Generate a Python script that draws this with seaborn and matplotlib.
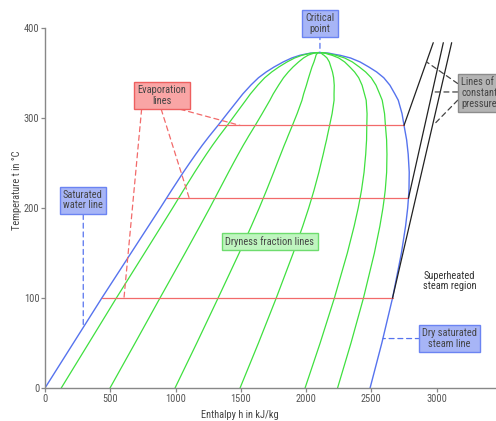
import numpy as np
import pandas as pd
import matplotlib
matplotlib.use("Agg")
import matplotlib.pyplot as plt
from matplotlib import font_manager
import seaborn as sns

# saturation dome (T in degC, h in kJ/kg)
t_liq = [0, 100, 200, 220, 240, 250, 260, 270, 280, 292, 305, 316, 327, 337, 345, 351.5, 357, 362.6, 367, 370, 371, 372.3, 372.8, 373]
h_liquid = [0, 435, 882, 970, 1060, 1107, 1155, 1205, 1258, 1325, 1395, 1455, 1515, 1578, 1635, 1695, 1755, 1825, 1890, 1953, 1985, 2030, 2065, 2100]

t_vap = [0, 50, 100, 150, 180, 200, 211, 220, 240, 260, 276, 292, 305, 320, 327, 336.7, 345, 351.5, 357, 362.6, 367, 370, 371, 372.3, 372.8, 373]
h_vapour = [2490, 2580, 2662, 2730, 2762, 2778, 2784, 2788, 2790, 2782, 2770, 2750, 2735, 2706, 2680, 2642, 2595, 2540, 2480, 2413, 2340, 2260, 2220, 2175, 2140, 2100]

dryness = [0.05, 0.2, 0.4, 0.6, 0.8, 0.9]

# evaporation lines
t_evap = [100, 211, 292]
h_evap_start = [435, 932, 1325]
h_evap_end = [2662, 2784, 2750]

# constant pressure lines (superheated region)
p_t_low = [292, 211, 100]
p_h_low = [2750, 2784, 2662]
p_t_high = [384, 384, 384]
p_h_high = [2974, 3051, 3115]

x_ticks = [0, 500, 1000, 1500, 2000, 2500, 3000]
y_ticks = [0, 100, 200, 300, 400]

sns.set_theme(style="ticks")

# pick a narrow face if one is there
fonts = font_manager.fontManager.ttflist
names = {f.name for f in fonts}
family = ['DejaVu Sans']
stretch = 'normal'
for cand in ['Liberation Sans Narrow', 'Roboto Condensed', 'Open Sans Condensed', 'Noto Sans Display']:
    if cand in names:
        family = [cand, 'DejaVu Sans']
        break
else:
    if any(f.name == 'DejaVu Sans' and f.stretch == 'condensed' for f in fonts):
        stretch = 'condensed'
plt.rcParams['font.family'] = family
plt.rcParams['font.stretch'] = stretch

BLUE = "#5673ee"
GREEN = "#3fe03f"
RED = "#f26a6a"
TXT = "#444444"
FS = 7.5

fig = plt.figure(figsize=(4.96, 4.21), dpi=100)
ax = fig.add_axes([45/496, 33/421, 450.4/496, 359.7/421])

# dome
dome = pd.DataFrame({
    "h": h_liquid + h_vapour[::-1],
    "t": t_liq + t_vap[::-1],
})
sns.lineplot(data=dome, x="h", y="t", sort=False, estimator=None,
             color=BLUE, lw=1.0, ax=ax)

# dryness fraction lines: h = h' + x (h'' - h') on a common T grid
t_common = sorted(set(t_liq) | set(t_vap))
hl = np.interp(t_common, t_liq, h_liquid)
hv = np.interp(t_common, t_vap, h_vapour)
for x in dryness:
    sns.lineplot(x=hl + x * (hv - hl), y=t_common, sort=False, estimator=None,
                 color=GREEN, lw=0.9, ax=ax)

# evaporation lines
for t, h0, h1 in zip(t_evap, h_evap_start, h_evap_end):
    sns.lineplot(x=[h0, h1], y=[t, t], color=RED, lw=0.9, ax=ax)

# constant pressure lines
for h0, t0, h1, t1 in zip(p_h_low, p_t_low, p_h_high, p_t_high):
    sns.lineplot(x=[h0, h1], y=[t0, t1], color="#222222", lw=0.9, ax=ax)

ax.set_xlim(0, 3450)
ax.set_ylim(0, 400)
ax.set_xticks(x_ticks)
ax.set_yticks(y_ticks)
ax.tick_params(colors="#888888", labelcolor="#555555", labelsize=FS, length=3, width=0.9, pad=1)
for s in ["left", "bottom"]:
    ax.spines[s].set_color("#888888")
    ax.spines[s].set_linewidth(1.0)
sns.despine(ax=ax)

ax.set_xlabel("Enthalpy h in kJ/kg", fontsize=7.5, color=TXT)
ax.set_ylabel("Temperature t in °C", fontsize=7.5, color=TXT)
ax.xaxis.set_label_coords(0.433, -0.06)
ax.yaxis.set_label_coords(-0.05, 0.55)


def box(x, y, text, fc, ec, ha="center"):
    ax.text(x, y, text, ha=ha, va="center", fontsize=FS, color=TXT,
            linespacing=1.1, clip_on=False,
            bbox=dict(boxstyle="square,pad=0.3", fc=fc, ec=ec, lw=1.0))


def leader(start, end, color):
    ax.annotate("", xy=end, xytext=start, annotation_clip=False,
                arrowprops=dict(arrowstyle="-", ls=(0, (4, 3)), color=color,
                                lw=0.9, shrinkA=0, shrinkB=0))


# critical point
leader((2106, 393), (2106, 373), BLUE)
box(2106, 405, "Critical\npoint", "#a7b5f6", "#6b84f2")

# evaporation lines
leader((1035, 310), (1494, 292), RED)
leader((890, 310), (1105, 211), RED)
leader((740, 310), (605, 100), RED)
box(896, 325, "Evaporation\nlines", "#f9a5a5", "#ee5f5f")

# saturated water line
leader((293, 193), (293, 70), BLUE)
box(291, 209, "Saturated\nwater line", "#a7b5f6", "#6b84f2")

# dryness
box(1723, 163, "Dryness fraction lines", "#bff5bf", "#6edc6e")

# constant pressure
leader((3161, 338.6), (2923, 362.6), "#444444")
leader((3161, 329.2), (2987, 329.2), "#444444")
leader((3161, 320), (2974, 292.2), "#444444")
box(3190, 328, "Lines of\nconstant\npressure", "#b4b4b4", "#8c8c8c", ha="left")

# superheated region
ax.text(3097, 119, "Superheated\nsteam region", ha="center", va="center",
        fontsize=FS, color="#333333", linespacing=1.1)

# dry saturated steam line
leader((2875, 55), (2590, 55), BLUE)
box(3097, 55, "Dry saturated\nsteam line", "#a7b5f6", "#6b84f2")

fig.savefig("out.png", dpi=100)
